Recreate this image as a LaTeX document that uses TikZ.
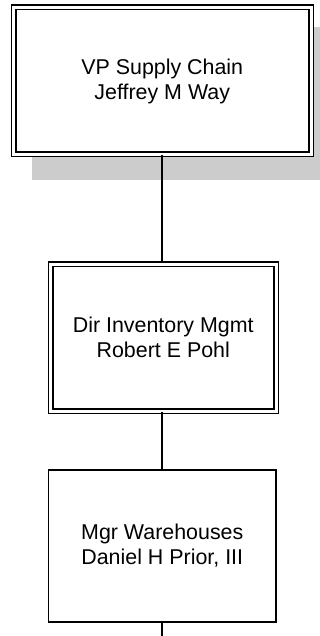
\documentclass[tikz,border=0pt]{standalone}
\usepackage{fontspec}
\setmainfont{Liberation Sans}
\begin{document}
\begin{tikzpicture}[x=1pt,y=-1pt,
  orgtext/.style={align=center,font=\fontsize{21.4}{25}\selectfont,inner sep=0pt},
  dblbox/.style={orgtext,draw=black,line width=1.5pt,double=white,double distance=3pt,rectangle,fill=white},
  sglbox/.style={orgtext,draw=black,line width=1.6pt,rectangle,fill=white},
  conn/.style={draw=black,line width=1.6pt}]
\useasboundingbox (0,0) rectangle (320,636);
\clip (0,0) rectangle (320,636);
\fill[black!20] (32,27) rectangle (334,180);
\node[dblbox,minimum width=297.5pt,minimum height=147pt] (vp) at (162.25,81) {VP Supply Chain\\Jeffrey M Way};
\node[dblbox,minimum width=225.5pt,minimum height=147pt] (dir) at (163.25,337.5) {Dir Inventory Mgmt\\Robert E Pohl};
\node[sglbox,minimum width=227.5pt,minimum height=151.5pt] (mgr) at (162.25,546) {Mgr Warehouses\\Daniel H Prior, III};
\coordinate (tail) at (162,640);
\draw[conn] (vp.south -| 162,0) -- (dir.north -| 162,0);
\draw[conn] (dir.south -| 162,0) -- (mgr.north -| 162,0);
\draw[conn] (mgr.south -| 162,0) -- (tail);
\end{tikzpicture}
\end{document}
